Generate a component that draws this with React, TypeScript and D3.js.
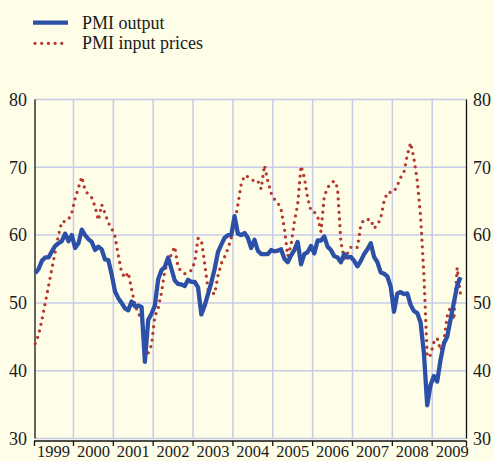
import React from 'react';
import * as d3 from 'd3';

const startYear = 1999;
const yearLabels = ['1999', '2000', '2001', '2002', '2003', '2004', '2005', '2006', '2007', '2008', '2009'];
const yTicks = [30, 40, 50, 60, 70, 80];
const seriesNames = ['PMI output', 'PMI input prices'];

// Monthly values, Jan 1999 onwards
const pmiOutput = [
  54.4, 55.0, 56.2, 56.7, 56.7, 57.6, 58.4, 58.8, 59.1, 60.2, 59.1, 60.0,
  58.1, 58.8, 60.8, 60.0, 59.4, 59.0, 57.8, 58.3, 57.9, 56.4, 56.3, 54.2,
  51.7, 50.7, 50.0, 49.2, 48.9, 50.2, 49.5, 49.6, 49.4, 41.3, 47.5, 48.4,
  49.6, 53.5, 54.8, 55.3, 56.7, 55.0, 53.3, 52.8, 52.7, 52.5, 53.4, 53.1,
  53.1, 52.3, 48.3, 49.6, 51.3, 53.0, 55.0, 57.5, 58.6, 59.6, 60.0, 60.0,
  62.8, 60.2, 60.0, 60.3, 59.6, 58.1, 59.3, 57.7, 57.2, 57.2, 57.2, 57.8,
  57.6, 57.7, 57.9, 56.5, 56.0, 57.0, 57.8, 59.0, 55.7, 57.2, 57.5, 58.4,
  57.3, 59.2, 59.2, 59.8, 58.3, 57.8, 56.9, 56.7, 56.0, 57.2, 56.7, 56.8,
  56.2, 55.4, 56.2, 57.2, 57.9, 58.8, 56.8, 56.0, 54.5, 54.3, 53.9, 52.4,
  48.7, 51.4, 51.6, 51.3, 51.4, 49.7, 48.8, 48.5, 47.1, 42.6, 34.9, 37.9,
  39.2, 38.4, 41.6, 44.0, 45.0, 47.5, 50.0, 52.5, 53.8,
];

const pmiInputPrices = [
  44.0, 45.3, 47.5, 50.0, 52.5, 55.0, 57.5, 60.0, 62.0, 62.0, 62.3, 63.3,
  65.4, 67.0, 68.6, 66.6, 66.0, 65.5, 64.2, 62.2, 64.5, 63.2, 61.8, 61.0,
  59.8, 57.0, 54.5, 53.7, 54.5, 52.0, 49.8, 48.4, 47.8, 43.5, 42.6, 43.8,
  48.0, 49.2, 51.5, 54.8, 56.0, 57.2, 58.3, 55.2, 54.7, 54.3, 54.5, 54.8,
  56.0, 59.5, 59.3, 55.8, 52.0, 51.6, 51.3, 54.0, 55.8, 56.8, 58.0, 59.6,
  61.8, 64.5, 67.5, 68.8, 68.6, 68.3, 67.9, 68.0, 66.8, 70.3, 68.0, 66.2,
  65.3, 64.8, 63.8, 61.0, 56.9, 58.5, 62.0, 64.5, 70.2, 68.5, 65.5, 63.6,
  63.4, 62.8, 60.5, 65.7, 67.0, 67.6, 68.0, 67.0, 59.0, 56.5, 57.3, 58.2,
  58.0, 58.2, 61.5, 62.3, 62.3, 62.3, 61.0, 61.5, 62.5, 65.0, 66.3, 66.3,
  66.4, 67.3, 68.5, 69.3, 71.8, 73.6, 71.3, 68.0, 62.8, 54.1, 42.0, 42.3,
  44.2, 44.8, 43.0, 44.3, 48.0, 49.4, 47.5, 55.2, 51.3,
];

const BG = '#fefde8';
const GRID = '#c6cbe8';
const BLUE = '#2c4fa8';
const RED = '#b5372d';
const FONT = "'Liberation Serif', 'Times New Roman', serif";

export default function App() {
  const W = 494;
  const H = 461;
  const left = 35;
  const right = 466.5;
  const top = 99.5;
  const bottom = 438.5;
  const axisY = 441;

  const x = d3.scaleLinear().domain([1999.035, 2009.86]).range([left, right]);
  const y = d3.scaleLinear().domain([30, 80]).range([bottom, top]);
  const t = (i: number) => startYear + (i + 0.5) / 12;

  const line = d3
    .line<number>()
    .x((_, i) => x(t(i)))
    .y((d) => y(d))
    .curve(d3.curveLinear);

  const years = yearLabels.map((s) => +s);
  const gridYears = years.slice(1);

  return (
    <svg
      width={W}
      height={H}
      style={{ position: 'absolute', left: 0, top: 0, background: BG }}
      fontFamily={FONT}
    >
      <rect x={0} y={0} width={W} height={H} fill={BG} />

      {/* horizontal gridlines */}
      {yTicks.map((v) => (
        <line key={'h' + v} x1={left} x2={right} y1={y(v)} y2={y(v)} stroke={GRID} strokeWidth={1.5} />
      ))}
      {/* vertical gridlines */}
      {gridYears.map((yr) => (
        <line key={'v' + yr} x1={x(yr)} x2={x(yr)} y1={top} y2={bottom} stroke={GRID} strokeWidth={1.5} />
      ))}

      {/* axes */}
      <line x1={left} x2={left} y1={top} y2={bottom} stroke="#111" strokeWidth={1.3} />
      <line x1={right} x2={right} y1={top} y2={bottom} stroke="#111" strokeWidth={1.3} />
      <line x1={left - 1} x2={right} y1={axisY} y2={axisY} stroke="#111" strokeWidth={1.3} />
      {[...years, 2009.86].map((yr, i) => {
        const xx = Math.max(left - 0.5, x(yr));
        return <line key={'t' + i} x1={xx} x2={xx} y1={axisY} y2={axisY + 5} stroke="#111" strokeWidth={1.3} />;
      })}

      {/* y labels */}
      {yTicks.map((v) => (
        <g key={'yl' + v}>
          <text x={27} y={y(v)} dy="0.35em" textAnchor="end" fontSize={18} fill="#1a1a1a">
            {v}
          </text>
          <text x={473} y={y(v)} dy="0.35em" textAnchor="start" fontSize={18} fill="#1a1a1a">
            {v}
          </text>
        </g>
      ))}

      {/* year labels */}
      {years.map((yr, i) => (
        <text key={'xl' + yr} x={x(yr + 0.5)} y={457} textAnchor="middle" fontSize={16.5} fill="#1a1a1a">
          {yearLabels[i]}
        </text>
      ))}

      {/* series */}
      <path
        d={line(pmiInputPrices) || ''}
        fill="none"
        stroke={RED}
        strokeWidth={3.3}
        strokeLinecap="round"
        strokeDasharray="0 6.7"
      />
      <path d={line(pmiOutput) || ''} fill="none" stroke={BLUE} strokeWidth={4.3} strokeLinejoin="round" />

      {/* legend */}
      <line x1={33} x2={68} y1={22.7} y2={22.7} stroke={BLUE} strokeWidth={4.3} />
      <text x={82} y={28.5} fontSize={18} fill="#1a1a1a">
        {seriesNames[0]}
      </text>
      <line
        x1={35}
        x2={68}
        y1={43.3}
        y2={43.3}
        stroke={RED}
        strokeWidth={3.3}
        strokeLinecap="round"
        strokeDasharray="0 6.7"
      />
      <text x={82} y={48.5} fontSize={18} fill="#1a1a1a">
        {seriesNames[1]}
      </text>
    </svg>
  );
}
